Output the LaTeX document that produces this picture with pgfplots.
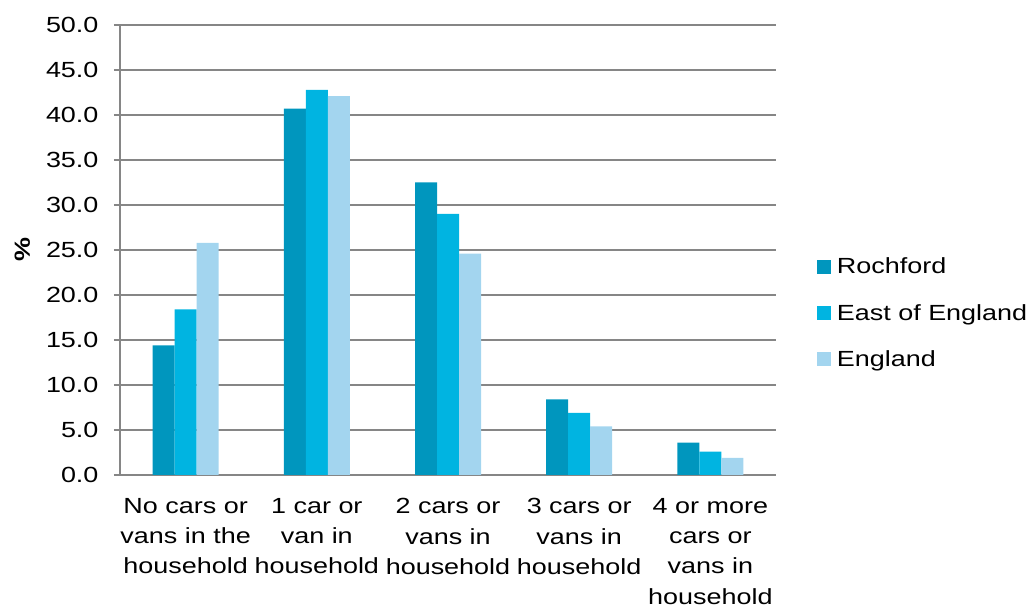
\documentclass[border=0pt]{standalone}
\usepackage{pgfplots}
\pgfplotsset{compat=1.18}
\usepackage{fontspec}
\setmainfont{Liberation Sans}[FakeStretch=1.23]
\definecolor{rochford}{RGB}{0,150,190}
\definecolor{eastengland}{RGB}{0,180,225}
\definecolor{england}{RGB}{163,213,239}
\definecolor{gridgrey}{RGB}{134,134,134}
\begin{document}
\begin{tikzpicture}[x=1bp,y=1bp]
\path[use as bounding box] (-120,-133) rectangle (909,475);
\begin{axis}[
  scale only axis,
  width=656bp, height=450bp,
  ybar=0pt, bar width=22bp,
  xmin=-0.5, xmax=4.5,
  ymin=0, ymax=50,
  ytick={0,5,...,50},
  xtick=data,
  xticklabels={{No cars or\\vans in the\\household},{1 car or\\van in\\household},{2 cars or\\vans in\\household},{3 cars or\\vans in\\household},{4 or more\\cars or\\vans in\\household}},
  xticklabel style={align=center, font=\fontsize{22}{30.3}\selectfont, yshift=-14bp},
  yticklabel style={font=\fontsize{22}{26}\selectfont, xshift=-12bp},
  /pgf/number format/.cd, fixed, fixed zerofill, precision=1, assume math mode=true,
  /pgfplots/.cd,
  axis x line=bottom, axis y line=left,
  axis line style={-, gridgrey, line width=1.2bp},
  major x tick style={draw=none},
  major y tick style={gridgrey, line width=1.2bp},
  major tick length=6bp,
  tick align=outside,
  ymajorgrids,
  grid style={gridgrey, line width=1.3bp},
  ylabel={\textbf{\%}},
  ylabel style={font=\fontsize{22}{26}\selectfont, at={(axis description cs:-0.149,0.5)}, anchor=center},
  legend style={draw=none, at={(axis description cs:1.062,0.36)}, anchor=west,
    font=\fontsize{22}{26}\selectfont, row sep=25bp, cells={anchor=west},
    inner xsep=0pt},
  legend cell align=left,
  legend image code/.code={\fill[#1] (0bp,-7bp) rectangle (14bp,7bp);},
  legend style={/tikz/every odd column/.append style={column sep=0bp}},
]
\addplot[fill=rochford, draw=none] coordinates {(0,14.4) (1,40.7) (2,32.5) (3,8.4) (4,3.6)};
\addplot[fill=eastengland, draw=none] coordinates {(0,18.4) (1,42.8) (2,29.0) (3,6.9) (4,2.6)};
\addplot[fill=england, draw=none] coordinates {(0,25.8) (1,42.1) (2,24.6) (3,5.4) (4,1.9)};
\legend{\hspace{4bp}Rochford, \hspace{4bp}East of England, \hspace{4bp}England}
\end{axis}
\end{tikzpicture}
\end{document}
